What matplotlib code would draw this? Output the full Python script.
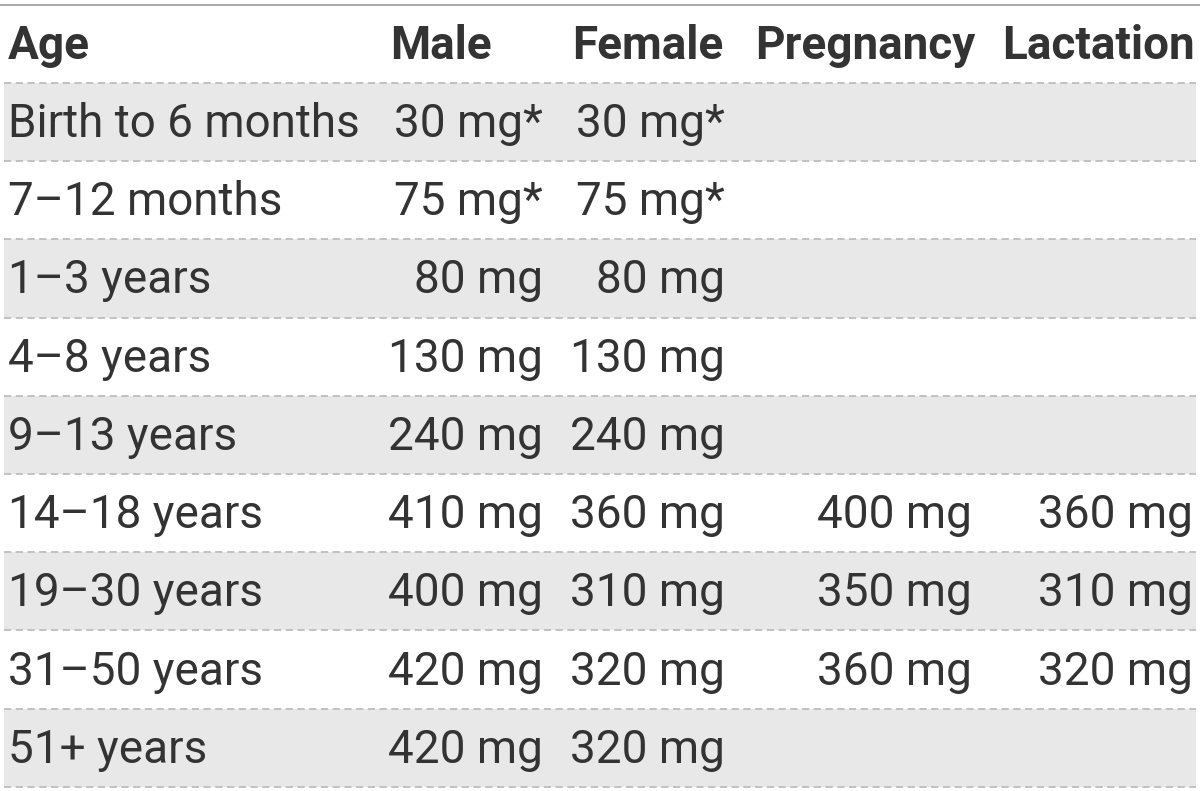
import matplotlib
matplotlib.use("Agg")
import matplotlib.pyplot as plt

headers = ["Age", "Male", "Female", "Pregnancy", "Lactation"]
ages = ["Birth to 6 months", "7–12 months", "1–3 years", "4–8 years", "9–13 years",
        "14–18 years", "19–30 years", "31–50 years", "51+ years"]
male = ["30 mg*", "75 mg*", "80 mg", "130 mg", "240 mg", "410 mg", "400 mg", "420 mg", "420 mg"]
female = ["30 mg*", "75 mg*", "80 mg", "130 mg", "240 mg", "360 mg", "310 mg", "320 mg", "320 mg"]
pregnancy = ["", "", "", "", "", "400 mg", "350 mg", "360 mg", ""]
lactation = ["", "", "", "", "", "360 mg", "310 mg", "320 mg", ""]

W, H = 1200, 791
fig = plt.figure(figsize=(W/100, H/100), dpi=100)
ax = fig.add_axes([0, 0, 1, 1])
ax.set_xlim(0, W); ax.set_ylim(H, 0); ax.axis("off")

fs = 33
col = "#333333"
font = "Roboto"
top = 5; head_b = 83; rh = 78.2
ax.plot([0, W], [top, top], color="#aaaaaa", lw=1.5)
header_x = [8, 390, 572, 755, 1002]
for h, x in zip(headers, header_x):
    ax.text(x, (top+head_b)/2+2, h, fontsize=fs, fontweight="bold", family=font,
            color=col, va="center", ha="left")
rights = [543, 725, 972, 1193]
cols = [male, female, pregnancy, lactation]
for i, a in enumerate(ages):
    y0 = head_b + i*rh
    if i % 2 == 0:
        ax.add_patch(plt.Rectangle((4, y0), W-8, rh, color="#e8e8e8", lw=0, zorder=0))
    ax.plot([4, W-4], [y0, y0], color="#bdbdbd", lw=1.3, ls=(0, (4, 2.5)))
    yc = y0 + rh/2 + 2
    ax.text(8, yc, a, fontsize=fs, family=font, color=col, va="center", ha="left")
    for c, r in zip(cols, rights):
        if c[i]:
            ax.text(r, yc, c[i], fontsize=fs, family=font, color=col, va="center", ha="right")
yb = head_b + len(ages)*rh
ax.plot([4, W-4], [yb, yb], color="#bdbdbd", lw=1.3, ls=(0, (4, 2.5)))
fig.savefig("out.png", dpi=100)
